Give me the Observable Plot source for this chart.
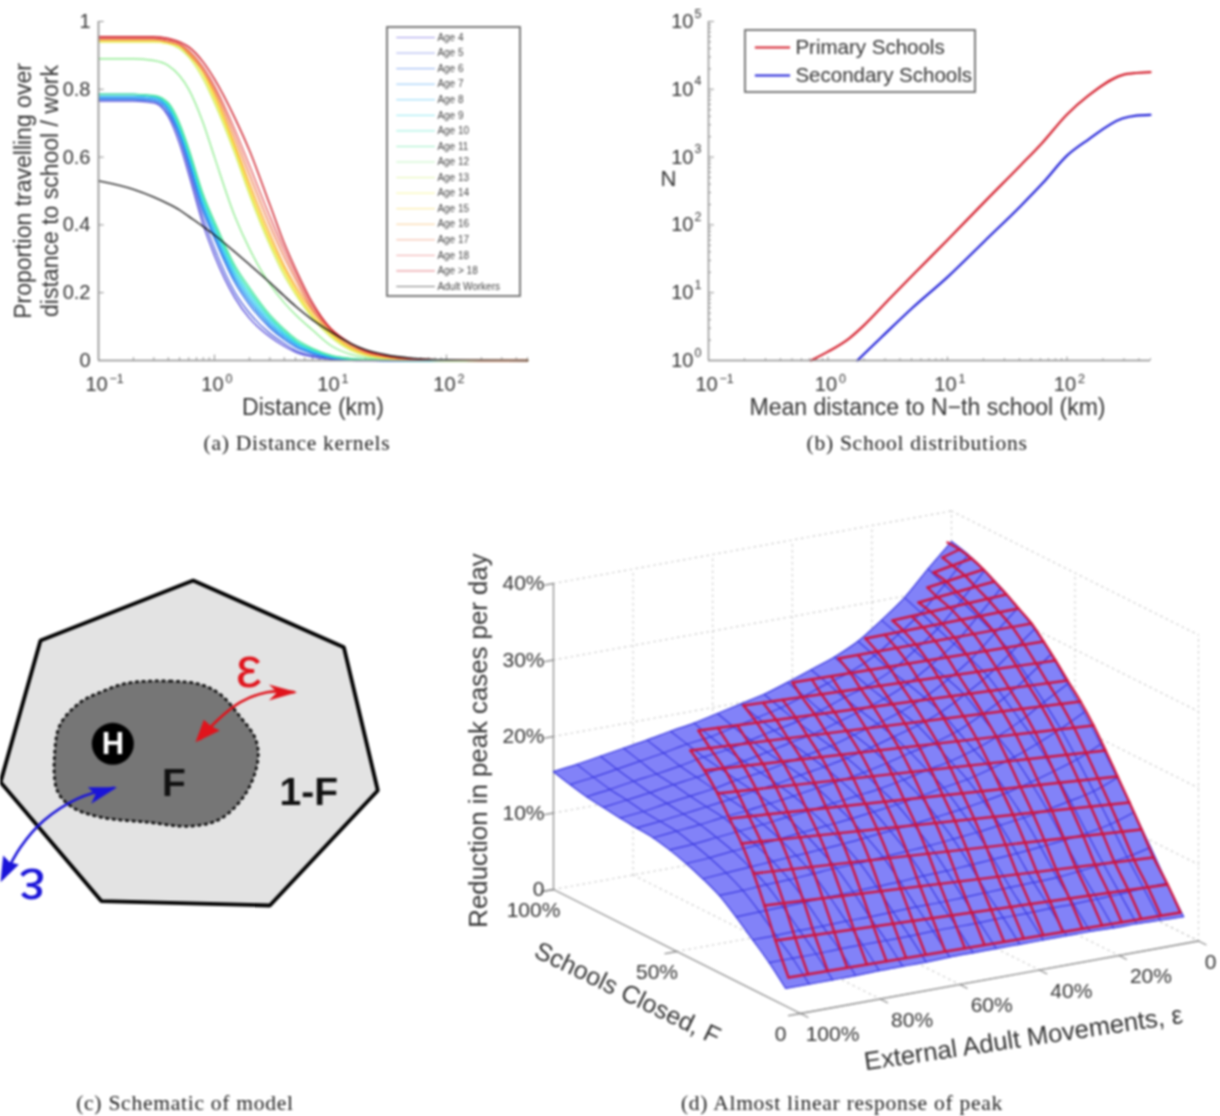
<!DOCTYPE html>
<html>
<head>
<meta charset="utf-8">
<script src="https://cdn.jsdelivr.net/npm/d3@7"></script>
<script src="https://cdn.jsdelivr.net/npm/@observablehq/plot@0.6"></script>
<style>
html,body{margin:0;padding:0;background:#fff}
#root{position:relative;width:1220px;height:1116px;overflow:hidden;filter:blur(0.9px)}
#root>div{position:absolute}
.cap{font-family:"Liberation Serif",serif;font-size:21.5px;color:#222;text-align:center;letter-spacing:.75px;white-space:nowrap;transform:translateX(-50%)}
</style>
</head>
<body>
<div id="root"></div>
<script>
// ---------- panel (a): distance kernels ----------
const ageNames = ["Age 4","Age 5","Age 6","Age 7","Age 8","Age 9","Age 10","Age 11","Age 12","Age 13","Age 14","Age 15","Age 16","Age 17","Age 18","Age > 18","Adult Workers"];
const ageColors = ["#5046d8","#5564de","#2c6ce8","#2c94f0","#2cbaf4","#38d8ea","#38e6c2","#4ce698","#90ec90","#d0f070","#f2ee50","#f8d440","#f8aa40","#ee7c50","#e66060","#cc1420","#111111"];
const kernelDist = [0.1,0.2,0.3,0.4,0.5,0.6,0.8,1,1.5,2,3,4,5,7,10,15,20,30,50,100,200,500];
const kernelValues = [
[.765,.765,.76,.72,.64,.55,.40,.31,.185,.125,.07,.042,.025,.011,.004,.001,0,0,0,0,0,0],
[.785,.785,.78,.74,.66,.57,.42,.33,.20,.14,.08,.05,.03,.014,.005,.002,.001,0,0,0,0,0],
[.77,.77,.765,.73,.66,.58,.44,.36,.23,.165,.097,.062,.04,.02,.008,.003,.001,0,0,0,0,0],
[.775,.775,.77,.74,.67,.59,.45,.37,.24,.175,.105,.068,.045,.023,.01,.003,.001,0,0,0,0,0],
[.78,.78,.775,.745,.68,.60,.46,.38,.25,.185,.112,.074,.05,.026,.011,.004,.002,0,0,0,0,0],
[.785,.785,.78,.75,.685,.61,.47,.39,.26,.195,.12,.08,.054,.029,.012,.004,.002,.001,0,0,0,0],
[.785,.785,.78,.755,.69,.615,.48,.40,.27,.205,.127,.086,.058,.032,.014,.005,.002,.001,0,0,0,0],
[.785,.785,.782,.76,.70,.625,.49,.41,.28,.215,.135,.092,.064,.036,.016,.006,.003,.001,0,0,0,0],
[.89,.89,.885,.87,.84,.80,.70,.60,.425,.33,.225,.17,.135,.09,.045,.018,.009,.003,.001,0,0,0],
[.94,.94,.94,.935,.92,.895,.83,.76,.61,.49,.34,.25,.195,.125,.07,.03,.015,.006,.002,0,0,0],
[.94,.94,.94,.935,.925,.90,.84,.77,.62,.50,.35,.26,.20,.13,.075,.033,.017,.007,.002,0,0,0],
[.945,.945,.945,.94,.93,.905,.85,.78,.63,.51,.36,.27,.21,.135,.08,.036,.019,.008,.003,0,0,0],
[.945,.945,.945,.94,.93,.91,.855,.79,.64,.525,.375,.28,.22,.145,.085,.04,.022,.01,.003,.001,0,0],
[.95,.95,.95,.94,.93,.905,.855,.80,.66,.55,.40,.305,.24,.15,.09,.045,.025,.012,.004,.001,0,0],
[.95,.95,.95,.945,.935,.915,.865,.81,.68,.575,.425,.325,.255,.16,.095,.05,.028,.013,.005,.001,0,0],
[.955,.955,.955,.95,.94,.925,.88,.83,.715,.62,.46,.345,.27,.17,.095,.05,.03,.014,.005,.001,0,0],
[.53,.505,.482,.462,.444,.425,.395,.37,.32,.283,.23,.19,.16,.12,.085,.05,.032,.017,.007,.002,.001,0]
];
const kernelYTicks = [0,.2,.4,.6,.8,1];
const logXMajor = [.1,1,10,100];
const logXExp = ["\u22121","0","1","2"];
const logXMinor = [.2,.3,.4,.5,.6,.7,.8,.9,2,3,4,5,6,7,8,9,20,30,40,50,60,70,80,90,200,300,400,500];

// ---------- panel (b): school distributions ----------
const schoolNames = ["Primary Schools","Secondary Schools"];
const schoolColors = ["#d4202e","#2020d8"];
const primaryDist = [.72,1,1.49,2,3.2,5.4,10,21,41,62,100,150,290,380,500];
const primaryN = [1,1.35,2.09,3.3,7.8,20,60,230,760,1620,4260,8000,16200,17400,17900];
const secondaryDist = [1.76,2.8,5.1,10,20.5,41,63,100,150,290,380,500];
const secondaryN = [1,2.2,6,17,58,190,417,1050,1800,3700,4100,4200];
const logYMajor = [1,10,100,1000,10000,100000];
const logYExp = ["0","1","2","3","4","5"];
const logYMinor = [2,3,4,5,6,7,8,9,20,30,40,50,60,70,80,90,200,300,400,500,600,700,800,900,2000,3000,4000,5000,6000,7000,8000,9000,20000,30000,40000,50000,60000,70000,80000,90000];

// ---------- panel (c): schematic, in schematic units ----------
const cellX = [578,1030,1132,808,303,0,120];
const cellY = [60,260,690,1035,1022,665,240];
const areaX = [380,510,600,660,720,765,772,735,660,570,440,300,215,170,163,180,240,300];
const areaY = [368,362,372,402,470,535,600,700,775,797,785,770,740,690,570,490,425,395];
const redArcX = [880,800,720,650,600];
const redArcY = [395,395,425,480,535];
const blueArcX = [340,230,130,60,10];
const blueArcY = [682,715,780,860,950];
const redHeadOut = [[890,395],[805,372],[830,395],[805,420]];
const redHeadIn = [[585,545],[610,478],[632,497],[658,510]];
const blueHeadIn = [[350,680],[262,680],[285,702],[272,730]];
const blueHeadOut = [[0,965],[8,885],[28,905],[55,912]];

// ---------- panel (d): response surface ----------
const surfEps = [100,94.1,88.2,82.4,76.5,70.6,64.7,58.8,52.9,47.1,41.2,35.3,29.4,23.5,17.6,11.8,5.9,0];
const surfF = [6,12.7,19.4,26.1,32.9,39.6,46.3,53,59.7,66.4,73.1,79.9,86.6,93.3,100];
const surfZ = [
[2.3,2.3,2.3,2.3,2.4,2.4,2.4,2.5,2.5,2.5,2.5,2.5,2.5,2.5,2.4,2.4,2.3,2.2],
[4.6,4.6,4.6,4.7,4.7,4.7,4.7,4.8,4.8,4.8,4.9,4.9,5,5,5.1,5.2,5.4,5.5],
[6.5,6.5,6.6,6.6,6.7,6.7,6.8,6.9,6.9,7,7.1,7.2,7.3,7.4,7.7,8,8.4,9.1],
[8.4,8.5,8.6,8.7,8.8,8.9,9,9.1,9.3,9.4,9.6,9.8,10,10.3,10.6,11,11.6,12.6],
[10.1,10.2,10.4,10.5,10.7,10.9,11,11.2,11.4,11.6,11.9,12.2,12.6,13,13.5,14.1,14.8,16],
[11.2,11.4,11.6,11.8,12,12.2,12.4,12.7,13,13.3,13.7,14.1,14.6,15.2,16,16.9,17.9,19.3],
[12.1,12.3,12.6,12.8,13.1,13.4,13.7,14,14.4,14.8,15.3,15.9,16.4,17.2,18.2,19.4,20.8,22.4],
[12.8,13,13.3,13.6,13.9,14.3,14.6,15,15.4,15.8,16.4,17.1,17.7,18.6,19.8,21.3,23.2,25],
[13.3,13.6,13.9,14.3,14.6,15,15.4,15.9,16.3,16.8,17.5,18.3,19,20,21.5,23.2,25.4,27.8],
[13.5,13.8,14.2,14.6,15,15.5,15.9,16.5,17,17.6,18.4,19.3,20.2,21.4,23.1,25,27.5,30],
[13.7,14,14.5,14.9,15.3,15.9,16.3,16.9,17.5,18.1,19,19.9,20.9,22.2,24,26.1,28.9,31.7],
[14,14.4,14.8,15.3,15.7,16.3,16.7,17.3,18,18.6,19.5,20.5,21.5,22.9,24.8,27,30,33.2],
[14.3,14.7,15.2,15.6,16.1,16.7,17.1,17.8,18.5,19.1,20,21.1,22.1,23.5,25.6,27.9,31,34.4],
[14.8,15.2,15.7,16.2,16.7,17.3,17.7,18.4,19.1,19.8,20.8,21.9,22.9,24.4,26.6,28.9,32,35.4],
[15.4,15.8,16.3,16.8,17.3,17.9,18.4,19.1,19.8,20.5,21.5,22.6,23.7,25.2,27.4,29.8,33,36]
];
const zTicks = [0,10,20,30,40];
const zTickText = ["0","10%","20%","30%","40%"];
const epsTicks = [100,80,60,40,20,0];
const epsTickText = ["100%","80%","60%","40%","20%","0"];
const fTicks = [100,50,0];
const fTickText = ["100%","50%","0"];
// overlay mesh, row ends as read in the picture's view space
const meshLeftX  = [788,775,764,753,741,729,717,704,690,698,743,792,838,865,892,918,927,933,942,947];
const meshLeftY  = [977,940,905,873,843,818,793,770,750,730,705,682,658,638,620,602,587,572,557,542];
const meshRightX = [1180,1167,1153,1141,1129,1117,1105,1093,1080,1067,1055,1043,1031,1018,1006,994,983,971,959,947];
const meshRightY = [912,884,857,829,802,776,750,725,701,680,660,641,623,608,594,581,569,558,549,542];
const meshCells  = [20,20,20,20,20,20,20,20,20,19,16,13,10,8,6,4,3,2,1,0];

// ---------- helpers ----------
const root = document.getElementById("root");
const INK = "#333333", AXIS = "#8c8c8c", SANS = '"Liberation Sans",Arial,sans-serif';
function place(node,left,top){const d=document.createElement("div");d.style.left=left+"px";d.style.top=top+"px";d.append(node);root.append(d);}
function caption(t,cx,y){const d=document.createElement("div");d.className="cap";d.style.left=cx+"px";d.style.top=y+"px";d.textContent=t;root.append(d);}
const baseStyle = {background:"transparent",overflow:"visible",fontFamily:SANS,color:INK};

// panel (a)
const kernelRows = ageNames.flatMap((age,i)=>kernelDist.map((d,j)=>({age,d,p:kernelValues[i][j]})));
place(Plot.plot({
  width:560,height:430,marginLeft:98,marginRight:33,marginTop:21,marginBottom:70,style:baseStyle,
  x:{type:"log",domain:[.1,500],axis:null},y:{domain:[0,1],axis:null},
  color:{domain:ageNames,range:ageColors},
  marks:[
    Plot.ruleX(logXMinor,{x:d=>d,y1:0,y2:.008,stroke:AXIS}),
    Plot.ruleX(logXMajor,{x:d=>d,y1:0,y2:.016,stroke:AXIS}),
    Plot.ruleY(kernelYTicks,{y:d=>d,x1:.1,x2:.112,stroke:AXIS}),
    Plot.line(kernelRows,{x:"d",y:"p",z:"age",stroke:"age",strokeWidth:1.4,curve:"monotone-x"}),
    Plot.ruleX([.1],{stroke:AXIS,strokeWidth:1.6}),
    Plot.ruleY([0],{stroke:AXIS,strokeWidth:1.6}),
    Plot.text(kernelYTicks,{y:d=>d,text:d=>String(d),frameAnchor:"left",dx:-8,textAnchor:"end",fontSize:20,fill:INK}),
    Plot.text(logXMajor,{x:d=>d,text:()=>"10",frameAnchor:"bottom",dy:30,dx:-2,fontSize:20,fill:INK}),
    Plot.text(logXMajor,{x:d=>d,text:(d,i)=>logXExp[i],frameAnchor:"bottom",dy:22,dx:11,textAnchor:"start",fontSize:12.5,fill:INK}),
    Plot.text(["Distance (km)"],{text:d=>d,frameAnchor:"bottom",dy:54,fontSize:23,fill:INK}),
    Plot.text(["Proportion travelling over\ndistance to school / work"],{text:d=>d,frameAnchor:"left",dx:-63,rotate:-90,textAnchor:"middle",lineAnchor:"middle",fontSize:23,lineHeight:1.18,fill:INK})
  ]
}),0,0);

// legend of (a)
place(Plot.plot({
  width:133,height:269,margin:0,style:baseStyle,
  x:{domain:[0,1],axis:null},y:{domain:[-.643,16.643],reverse:true,axis:null},
  color:{domain:ageNames,range:ageColors},
  marks:[
    Plot.rect([0],{x1:0,x2:1,y1:-.643,y2:16.643,fill:"white",stroke:"#6c6c6c",strokeWidth:1.8}),
    Plot.ruleY(ageNames,{y:(d,i)=>i,x1:.07,x2:.36,stroke:d=>d,strokeWidth:1,strokeOpacity:.55}),
    Plot.text(ageNames,{y:(d,i)=>i,x:.375,text:d=>d,textAnchor:"start",fontSize:10,fill:"#444"})
  ]
}),387,27);
caption("(a) Distance kernels",297,431);

// panel (b)
const schoolRows = [
  ...primaryDist.map((d,i)=>({kind:schoolNames[0],d,n:primaryN[i]})),
  ...secondaryDist.map((d,i)=>({kind:schoolNames[1],d,n:secondaryN[i]}))
];
place(Plot.plot({
  width:560,height:430,marginLeft:68,marginRight:50,marginTop:21,marginBottom:70,style:baseStyle,
  x:{type:"log",domain:[.1,500],axis:null},y:{type:"log",domain:[1,1e5],axis:null},
  color:{domain:schoolNames,range:schoolColors},
  marks:[
    Plot.ruleX(logXMinor,{x:d=>d,y1:1,y2:1.06,stroke:AXIS}),
    Plot.ruleX(logXMajor,{x:d=>d,y1:1,y2:1.12,stroke:AXIS}),
    Plot.ruleY(logYMinor,{y:d=>d,x1:.1,x2:.106,stroke:AXIS}),
    Plot.ruleY(logYMajor,{y:d=>d,x1:.1,x2:.112,stroke:AXIS}),
    Plot.line(schoolRows,{x:"d",y:"n",z:"kind",stroke:"kind",strokeWidth:2.2,curve:"monotone-x"}),
    Plot.ruleX([.1],{stroke:AXIS,strokeWidth:1.4}),
    Plot.ruleY([1],{stroke:AXIS,strokeWidth:1.4}),
    Plot.text(logYMajor,{y:d=>d,text:()=>"10",frameAnchor:"left",dx:-15,textAnchor:"end",fontSize:20,fill:INK}),
    Plot.text(logYMajor,{y:d=>d,text:(d,i)=>logYExp[i],frameAnchor:"left",dx:-14,dy:-8,textAnchor:"start",fontSize:12.5,fill:INK}),
    Plot.text(logXMajor,{x:d=>d,text:()=>"10",frameAnchor:"bottom",dy:30,dx:-2,fontSize:20,fill:INK}),
    Plot.text(logXMajor,{x:d=>d,text:(d,i)=>logXExp[i],frameAnchor:"bottom",dy:22,dx:11,textAnchor:"start",fontSize:12.5,fill:INK}),
    Plot.text(["Mean distance to N\u2212th school (km)"],{text:d=>d,frameAnchor:"bottom",dy:54,dx:-2,fontSize:23,fill:INK}),
    Plot.text(["N"],{text:d=>d,frameAnchor:"left",dx:-40,dy:-12,textAnchor:"middle",fontSize:22,fill:INK})
  ]
}),640,0);

// legend of (b)
place(Plot.plot({
  width:230,height:62,margin:0,style:baseStyle,
  x:{domain:[0,1],axis:null},y:{domain:[-.607,1.607],reverse:true,axis:null},
  color:{domain:schoolNames,range:schoolColors},
  marks:[
    Plot.rect([0],{x1:0,x2:1,y1:-.607,y2:1.607,fill:"white",stroke:"#6c6c6c",strokeWidth:1.8}),
    Plot.ruleY(schoolNames,{y:(d,i)=>i,x1:.043,x2:.196,stroke:d=>d,strokeWidth:2.2}),
    Plot.text(schoolNames,{y:(d,i)=>i,x:.217,text:d=>d,textAnchor:"start",fontSize:20.5,fill:INK})
  ]
}),745,30);
caption("(b) School distributions",917,431);

// panel (c)
const pts=(xs,ys)=>xs.map((x,i)=>({x,y:ys[i]}));
const pairs=a=>a.map(([x,y])=>({x,y}));
place(Plot.plot({
  width:400,height:360,margin:0,style:baseStyle,
  x:{domain:[0,1200],axis:null},y:{domain:[1080,0],range:[360,0],axis:null},
  marks:[
    Plot.line(pts(cellX,cellY),{x:"x",y:"y",curve:"linear-closed",fill:"#e3e3e3",stroke:"#000",strokeWidth:3.8,strokeLinejoin:"miter"}),
    Plot.line(pts(areaX,areaY),{x:"x",y:"y",curve:"catmull-rom-closed",fill:"#767676",stroke:"#111",strokeWidth:2.8,strokeDasharray:"1.6,5"}),
    Plot.dot([0],{x:()=>337,y:()=>550,r:21,fill:"#000",stroke:"none"}),
    Plot.text(["H"],{x:()=>337,y:()=>550,text:d=>d,fontSize:31,fontWeight:"bold",fill:"#fff"}),
    Plot.text(["F"],{x:()=>520,y:()=>668,text:d=>d,fontSize:39,fontWeight:"bold",fill:"#111"}),
    Plot.text(["1-F"],{x:()=>925,y:()=>695,text:d=>d,fontSize:39,fontWeight:"bold",fill:"#111"}),
    Plot.line(pts(redArcX,redArcY),{x:"x",y:"y",curve:"catmull-rom",stroke:"#e0141c",strokeWidth:2.6}),
    Plot.line(pairs(redHeadOut),{x:"x",y:"y",curve:"linear-closed",fill:"#e0141c",stroke:"none"}),
    Plot.line(pairs(redHeadIn),{x:"x",y:"y",curve:"linear-closed",fill:"#e0141c",stroke:"none"}),
    Plot.line(pts(blueArcX,blueArcY),{x:"x",y:"y",curve:"catmull-rom",stroke:"#1a14d8",strokeWidth:2.6}),
    Plot.line(pairs(blueHeadIn),{x:"x",y:"y",curve:"linear-closed",fill:"#1a14d8",stroke:"none"}),
    Plot.line(pairs(blueHeadOut),{x:"x",y:"y",curve:"linear-closed",fill:"#1a14d8",stroke:"none"}),
    Plot.text(["\u03b5"],{x:()=>745,y:()=>325,text:d=>d,fontSize:58,fill:"#e0141c"}),
    Plot.text(["\u03b5"],{x:()=>95,y:()=>980,text:d=>d,fontSize:58,rotate:180,fill:"#1a14d8"})
  ]
}),0,560);
caption("(c) Schematic of model",185,1091);

// panel (d): box projection of (epsilon %, F %, reduction %) into the view
const proj=(e,F,z)=>({px:553+(1-e/100)*398+(1-F/100)*247,py:889-(1-e/100)*72.5+(1-F/100)*124-z*7.65});
const segs=[];let sid=0;
const seg=(a,b)=>{const id=sid++;segs.push({...proj(...a),id},{...proj(...b),id});};
zTicks.forEach(z=>{seg([100,100,z],[0,100,z]);seg([0,100,z],[0,0,z]);});
epsTicks.slice(1).forEach(e=>{seg([e,100,0],[e,100,40]);seg([e,100,0],[e,0,0]);});
fTicks.slice(1).forEach(F=>{seg([0,F,0],[0,F,40]);seg([100,F,0],[0,F,0]);});
const axSegs=[];let aid=0;
const ax=(a,b)=>{const id=aid++;axSegs.push({...proj(...a),id},{...proj(...b),id});};
ax([100,100,0],[100,100,40]);ax([100,100,0],[100,0,0]);ax([100,0,0],[0,0,0]);
zTicks.forEach(z=>ax([100,100,z],[102.2,100,z]));
fTicks.forEach(F=>ax([100,F,0],[103,F,0]));
epsTicks.forEach(e=>ax([e,0,0],[e,-3,0]));

const outline=[];
surfEps.forEach((e,j)=>outline.push(proj(e,100,surfZ[surfF.length-1][j])));
for(let r=surfF.length-1;r>=0;r--)outline.push(proj(0,surfF[r],surfZ[r][surfEps.length-1]));
for(let j=surfEps.length-1;j>=0;j--)outline.push(proj(surfEps[j],surfF[0],surfZ[0][j]));
for(let r=0;r<surfF.length;r++)outline.push(proj(100,surfF[r],surfZ[r][0]));
const blue=[];
surfF.forEach((F,r)=>surfEps.forEach((e,j)=>blue.push({...proj(e,F,surfZ[r][j]),id:"r"+r})));
surfEps.forEach((e,j)=>surfF.forEach((F,r)=>blue.push({...proj(e,F,surfZ[r][j]),id:"c"+j})));
const nodeAt=(i,r)=>{const f=meshCells[r]?i/meshCells[r]:0;return {px:meshRightX[r]+(meshLeftX[r]-meshRightX[r])*f,py:meshRightY[r]+(meshLeftY[r]-meshRightY[r])*f};};
const red=[];
meshCells.forEach((n,r)=>{[0,n].forEach(i=>{if(n)red.push({...nodeAt(i,r),id:"r"+r});});});
for(let i=0;i<=20;i++){meshCells.forEach((n,r)=>{if(n>=i)red.push({...nodeAt(i,r),id:"b"+i});});}

place(Plot.plot({
  width:770,height:620,margin:0,style:baseStyle,
  x:{domain:[450,1220],range:[0,770],axis:null},y:{domain:[1100,480],range:[620,0],axis:null},
  marks:[
    Plot.line(segs,{x:"px",y:"py",z:"id",stroke:"#c8c8c8",strokeWidth:1.2,strokeDasharray:"1.5,4.5"}),
    Plot.line(axSegs,{x:"px",y:"py",z:"id",stroke:AXIS,strokeWidth:1.3}),
    Plot.line(outline,{x:"px",y:"py",curve:"linear-closed",fill:"#8282f8",stroke:"#8282f8",strokeWidth:.6}),
    Plot.line(blue,{x:"px",y:"py",z:"id",stroke:"#3c3ae0",strokeWidth:1.2,curve:"catmull-rom"}),
    Plot.line(red,{x:"px",y:"py",z:"id",stroke:"#d0143e",strokeWidth:2.4,curve:"catmull-rom"}),
    Plot.text(zTicks,{x:d=>proj(100,100,d).px,y:d=>proj(100,100,d).py,text:(d,i)=>zTickText[i],dx:-9,textAnchor:"end",fontSize:21,fill:INK}),
    Plot.text(fTicks,{x:d=>proj(100,d,0).px,y:d=>proj(100,d,0).py,text:(d,i)=>fTickText[i],dx:-20,dy:21,fontSize:21,fill:INK}),
    Plot.text(epsTicks.slice(0,5),{x:d=>proj(d,0,0).px,y:d=>proj(d,0,0).py,text:(d,i)=>epsTickText[i],dx:32,dy:21,fontSize:21,fill:INK}),
    Plot.text(epsTicks.slice(5),{x:d=>proj(d,0,0).px,y:d=>proj(d,0,0).py,text:()=>epsTickText[5],dx:12,dy:21,fontSize:21,fill:INK}),
    Plot.text(["Reduction in peak cases per day"],{x:()=>478,y:()=>740,text:d=>d,rotate:-90,fontSize:25.8,fill:INK}),
    Plot.text(["Schools Closed, F"],{x:()=>627,y:()=>993,text:d=>d,rotate:26,fontSize:25,fill:INK}),
    Plot.text(["External Adult Movements, \u03b5"],{x:()=>1023,y:()=>1038,text:d=>d,rotate:-8.5,fontSize:25.5,fill:INK})
  ]
}),450,480);
caption("(d) Almost linear response of peak",842,1091);
</script>
</body>
</html>
